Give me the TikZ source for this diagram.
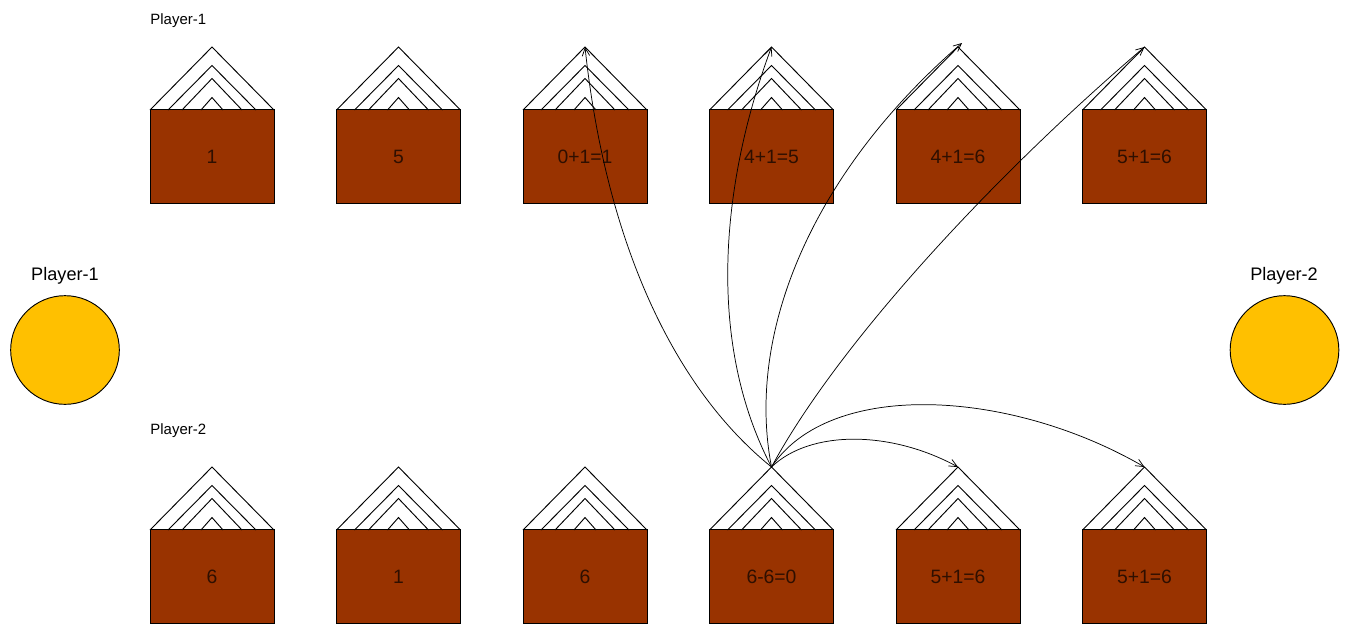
\documentclass[tikz,border=0pt]{standalone}
\usepackage{fontspec}
\setmainfont{Liberation Sans}
\usetikzlibrary{arrows.meta}
\definecolor{brick}{HTML}{993300}
\definecolor{coin}{HTML}{FFC000}
\tikzset{>={Straight Barb[length=6pt,width=5.5pt]}}
\tikzset{body/.style = {shape=rectangle,draw,fill=brick,inner sep=0pt,minimum width=93pt,minimum height=70pt,font=\fontsize{14.5}{16}\selectfont,text=black!70!brick}}
\tikzset{store/.style = {shape=circle,draw,fill=coin,inner sep=0pt,minimum size=81.5pt}}
\tikzset{tag/.style = {inner sep=0pt,font=\fontsize{11.2}{13}\selectfont}}
\tikzset{sidetag/.style = {inner sep=0pt,font=\fontsize{13.6}{15}\selectfont}}
\tikzset{move/.style = {->,line width=0.55pt}}
\tikzset{house/.pic = {
    \node[body] (-body) at (0,0) {#1};
    \coordinate (-top) at (0,-109.5);
    \draw (-62,-46.5) -- (-top) -- (62,-46.5);
    \draw (-44,-46.5) -- (0,-91) -- (44,-46.5);
    \draw (-30,-46.5) -- (0,-78) -- (30,-46.5);
    \draw (-11,-46.5) -- (0,-59) -- (11,-46.5);
}}

\begin{document}
\begin{tikzpicture}[x=0.75pt,y=-0.75pt,line width=0.7pt]
    \useasboundingbox (0,0) rectangle (1348,626);

    \node[tag,anchor=west] (labeltop) at (150,20.5) {Player-1};
    \node[tag,anchor=west] (labelbottom) at (150,431) {Player-2};
    \node[sidetag] (labelleft) at (65,276) {Player-1};
    \node[sidetag] (labelright) at (1284,276) {Player-2};

    \node[store] (storeleft) at (65,350) {};
    \node[store] (storeright) at (1284.5,350) {};

    \pic (a1) at (212,156.5) {house={1}};
    \pic (a2) at (398.5,156.5) {house={5}};
    \pic (a3) at (585,156.5) {house={0+1=1}};
    \pic (a4) at (771.5,156.5) {house={4+1=5}};
    \pic (a5) at (958,156.5) {house={4+1=6}};
    \pic (a6) at (1144.5,156.5) {house={5+1=6}};

    \pic (b1) at (212,576.5) {house={6}};
    \pic (b2) at (398.5,576.5) {house={1}};
    \pic (b3) at (585,576.5) {house={6}};
    \pic (b4) at (771.5,576.5) {house={6-6=0}};
    \pic (b5) at (958,576.5) {house={5+1=6}};
    \pic (b6) at (1144.5,576.5) {house={5+1=6}};

    \coordinate (end5) at (962,43);
    \draw[move] (b4-top) .. controls (670,385) and (605,235) .. (a3-top);
    \draw[move] (b4-top) .. controls (705,340) and (722,180) .. (a4-top);
    \draw[move] (b4-top) .. controls (745,330) and (815,170) .. (end5);
    \draw[move] (b4-top) .. controls (840,340) and (1000,170) .. (a6-top);
    \draw[move] (b4-top) .. controls (810,430) and (890,430) .. (b5-top);
    \draw[move] (b4-top) .. controls (830,379) and (1010,389) .. (b6-top);
\end{tikzpicture}
\end{document}
